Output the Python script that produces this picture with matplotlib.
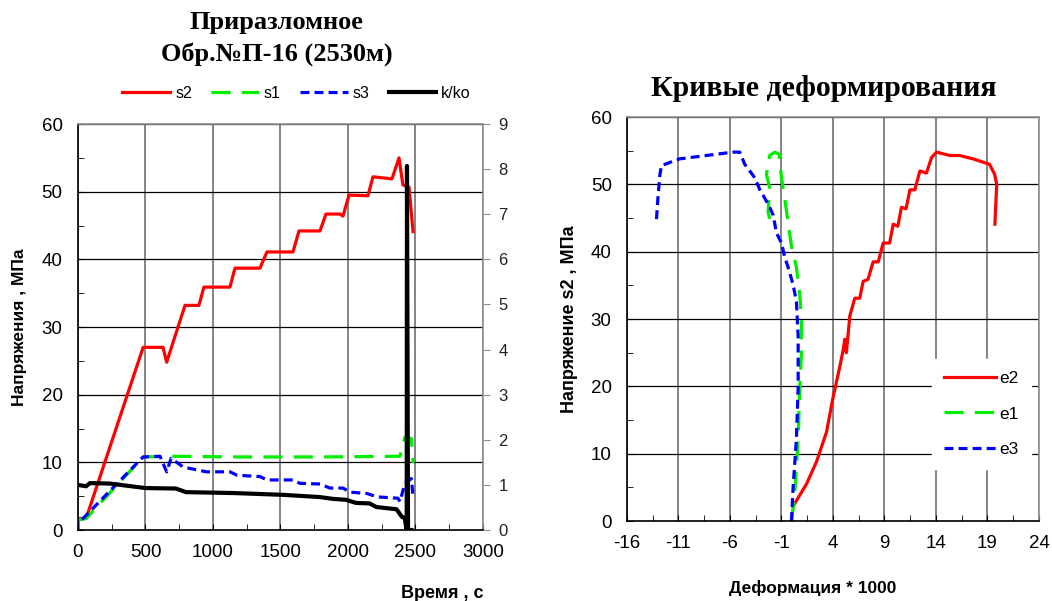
import matplotlib.pyplot as plt
from matplotlib.ticker import MultipleLocator

# --- время нагружения (с) и напряжения (МПа) ---
t_s2 = [0, 60, 483, 630, 657, 793, 896, 933, 1126, 1163, 1348, 1400, 1593, 1637,
        1793, 1837, 1940, 1963, 2008, 2148, 2185, 2326, 2378, 2407, 2452, 2482]
s2 = [1.7, 1.7, 27.0, 27.0, 24.8, 33.2, 33.2, 35.9, 35.9, 38.7, 38.7, 41.1, 41.1, 44.2,
      44.2, 46.7, 46.7, 46.4, 49.5, 49.4, 52.2, 51.9, 55.0, 51.0, 50.7, 44.1]

t_s1 = [0, 60, 483, 700, 1200, 1800, 2385, 2422, 2470, 2482]
s1 = [1.5, 1.7, 10.8, 10.9, 10.8, 10.8, 10.9, 13.7, 13.5, 9.9]

t_s3 = [0, 0, 37, 483, 608, 657, 690, 780, 952, 1126, 1178, 1348, 1400, 1593, 1644,
        1793, 1867, 1963, 2015, 2141, 2215, 2370, 2385, 2422, 2470, 2482]
s3 = [0, 1.5, 1.7, 10.8, 10.9, 8.6, 10.6, 9.3, 8.6, 8.6, 8.1, 7.9, 7.4, 7.4, 6.9,
      6.8, 6.2, 6.2, 5.6, 5.4, 4.9, 4.7, 4.2, 6.9, 7.6, 4.9]

t_k = [0, 60, 89, 236, 500, 725, 800, 1150, 1520, 1793, 1890, 1985, 2060, 2160,
       2210, 2360, 2400, 2420, 2435, 2437, 2445, 2470]
k_ko = [1.0, 0.97, 1.04, 1.03, 0.93, 0.92, 0.84, 0.82, 0.78, 0.73, 0.69, 0.67, 0.60,
        0.59, 0.51, 0.46, 0.29, 0.27, 0.0, 8.07, 0.0, 0.0]

# --- кривые деформирования: деформация*1000 и напряжение s2 ---
e2 = [0.13, 1.43, 2.4, 3.37, 4.0, 4.66, 5.0, 5.15, 5.3, 5.64, 6.12, 6.6, 6.93, 7.4,
      7.9, 8.4, 8.87, 9.5, 9.85, 10.3, 10.65, 11.1, 11.47, 11.95, 12.44, 13.08,
      13.57, 14.06, 15.35, 16.3, 17.6, 19.2, 19.7, 19.9, 19.72]
y_e2 = [2.2, 5.5, 8.8, 13.2, 18.3, 22.9, 25.5, 27.0, 25.0, 30.5, 33.1, 33.1, 35.6, 35.9,
        38.5, 38.5, 41.3, 41.3, 44.1, 43.8, 46.6, 46.4, 49.2, 49.2, 52.0, 51.7,
        54.0, 54.8, 54.3, 54.3, 53.8, 53.0, 51.5, 50.0, 44.1]

e1 = [-0.03, 0.29, 0.62, 0.78, 0.94, 0.94, 0.78, 0.45, -0.03, -0.36, -0.68, -1.0,
      -1.23, -1.65, -2.14, -2.46, -2.14, -2.3, -2.14]
y_e1 = [0, 4.0, 12.2, 19.8, 24.9, 30.0, 33.6, 37.7, 40.8, 44.3, 47.9, 51.0,
        54.5, 54.8, 54.3, 51.5, 49.4, 45.9, 44.8]

e3 = [-0.03, 0.13, 0.45, 0.62, 0.62, 0.45, 0.13, -0.36, -0.68, -1.0, -1.49, -1.8,
      -2.14, -2.6, -3.1, -3.6, -4.08, -4.57, -5.05, -5.7, -8.3, -10.9, -12.66,
      -12.8, -13.0, -13.15]
y_e3 = [0, 5.0, 12.2, 19.8, 27.5, 32.6, 35.1, 37.7, 39.2, 41.3, 42.8, 45.4,
        46.6, 47.9, 49.2, 51.0, 52.0, 53.0, 54.8, 54.8, 54.3, 53.8, 52.8,
        51.5, 47.9, 44.6]

RED, GREEN, BLUE = '#ff0000', '#00ee00', '#0000ff'
plt.rcParams['font.family'] = ['Liberation Sans', 'DejaVu Sans']
plt.rcParams['axes.unicode_minus'] = False

fig = plt.figure(figsize=(10.52, 6.01), dpi=100)


def style_axes(ax):
    ax.grid(True, which='major', axis='y', color='black', lw=0.9)
    ax.grid(True, which='major', axis='x', color='#707070', lw=1.2)
    ax.set_axisbelow(True)
    ax.spines['left'].set_color('black')
    ax.spines['bottom'].set_color('black')
    ax.spines['top'].set_color('#909090')
    ax.spines['right'].set_color('#909090')
    for s in ax.spines.values():
        s.set_linewidth(1.2)
    ax.tick_params(which='both', direction='in', length=4, labelsize=13.5)
    ax.tick_params(axis='x', pad=10)
    ax.tick_params(axis='y', pad=11)


# ---------- левый график: напряжения во времени ----------
ax1 = fig.add_axes([0.0741, 0.1181, 0.385, 0.6755])
ax1.plot(t_s2, s2, color=RED, lw=2.3, label='s2')
ax1.plot(t_s1, s1, color=GREEN, lw=2.3, dashes=(6, 3.5), label='s1')
ax1.plot(t_s3, s3, color=BLUE, lw=2.3, dashes=(2.8, 1.6), label='s3')
ax1.set_xlim(0, 3000)
ax1.set_ylim(0, 60)
ax1.xaxis.set_major_locator(MultipleLocator(500))
ax1.xaxis.set_minor_locator(MultipleLocator(250))
ax1.yaxis.set_major_locator(MultipleLocator(10))
ax1.yaxis.set_minor_locator(MultipleLocator(5))
style_axes(ax1)
ax1.set_ylabel('Напряжения , МПа', fontsize=12.5, fontweight='bold')
ax1.yaxis.set_label_coords(-0.125, 0.5)
ax1.set_xlabel('Время , с', fontsize=13, fontweight='bold')
ax1.xaxis.set_label_coords(0.9, -0.135)

ax1r = ax1.twinx()
ax1r.plot(t_k, k_ko, color='black', lw=3.0, label='k/ko')
ax1r.set_ylim(0, 9)
ax1r.yaxis.set_major_locator(MultipleLocator(1))
ax1r.tick_params(axis='y', direction='out', length=5, labelsize=12, colors='#222222',
                 color='#909090', pad=6)
for s in ax1r.spines.values():
    s.set_visible(False)

h1, l1 = ax1.get_legend_handles_labels()
h2, l2 = ax1r.get_legend_handles_labels()
fig.legend(h1 + h2, l1 + l2, loc='center', bbox_to_anchor=(0.282, 0.845), ncol=4,
           frameon=False, fontsize=11.5, handlelength=3.0, handletextpad=0.3,
           columnspacing=1.2)

fig.text(0.263, 0.962, 'Приразломное', ha='center', va='center',
         family='Liberation Serif', fontsize=19, fontweight='bold')
fig.text(0.263, 0.91, 'Обр.№П-16 (2530м)', ha='center', va='center',
         family='Liberation Serif', fontsize=19, fontweight='bold')

# ---------- правый график: кривые деформирования ----------
ax2 = fig.add_axes([0.596, 0.1331, 0.3916, 0.672])
ax2.plot(e2, y_e2, color=RED, lw=2.3, label='e2')
ax2.plot(e1, y_e1, color=GREEN, lw=2.3, dashes=(6, 3.5), label='e1')
ax2.plot(e3, y_e3, color=BLUE, lw=2.3, dashes=(2.8, 1.6), label='e3')
ax2.set_xlim(-16, 24)
ax2.set_ylim(0, 60)
ax2.xaxis.set_minor_locator(MultipleLocator(2.5, offset=-1))
ax2.yaxis.set_major_locator(MultipleLocator(10))
ax2.yaxis.set_minor_locator(MultipleLocator(5))
style_axes(ax2)
ax2.set_xticks(range(-16, 25, 5))
ax2.set_ylabel('Напряжение s2 , МПа', fontsize=13, fontweight='bold')
ax2.yaxis.set_label_coords(-0.12, 0.5)
ax2.set_xlabel('Деформация * 1000', fontsize=12.5, fontweight='bold')
ax2.xaxis.set_label_coords(0.45, -0.145)
leg = ax2.legend(loc='center', bbox_to_anchor=(0.86, 0.265), frameon=True,
                 fontsize=12.5, handlelength=3.0, handletextpad=0.2, labelspacing=1.15,
                 borderpad=0.7)
leg.get_frame().set_edgecolor('white')
leg.get_frame().set_facecolor('white')
leg.get_frame().set_alpha(1)

fig.text(0.783, 0.852, 'Кривые деформирования', ha='center', va='center',
         family='Liberation Serif', fontsize=21.5, fontweight='bold')

fig.savefig('out.png', dpi=100)
